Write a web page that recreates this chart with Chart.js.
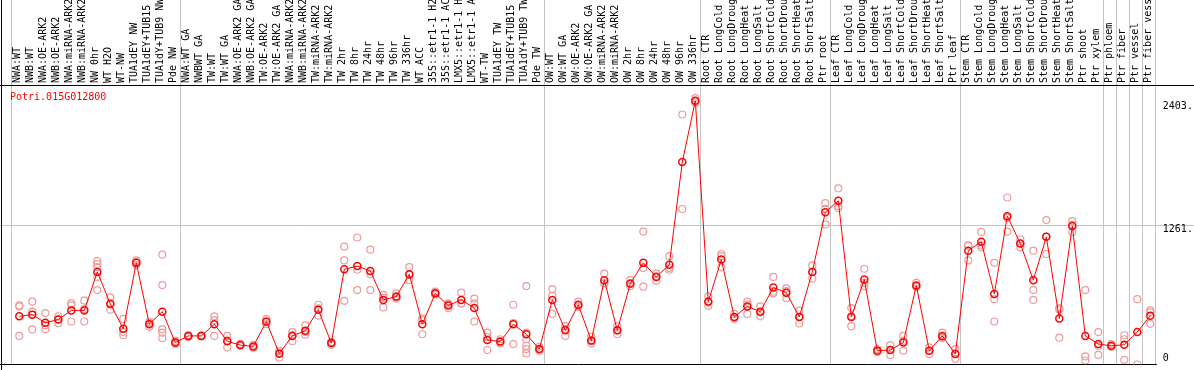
<!DOCTYPE html>
<html>
<head>
<meta charset="utf-8">
<script src="https://cdn.jsdelivr.net/npm/chart.js@4.4.1/dist/chart.umd.min.js"></script>
<style>
  html, body { margin: 0; padding: 0; background: #fff; }
  canvas { display: block; }
</style>
</head>
<body>
<canvas id="exprChart" width="1194" height="370"></canvas>
<script>
// Sample names (top labels)
const sampleLabels = [
    'NWA:WT', 'NWB:WT', 'NWA:OE-ARK2', 'NWB:OE-ARK2', 'NWA:miRNA-ARK2', 'NWB:miRNA-ARK2',
    'NW 0hr', 'WT H2O', 'WT-NW', 'TUA1dEY NW', 'TUA1dEY+TUB15', 'TUA1dY+TUB9 NW', 'Pde NW',
    'NWA:WT GA', 'NWBWT GA', 'TW:WT', 'TW:WT GA', 'NWA:OE-ARK2 GA', 'NWB:OE-ARK2 GA',
    'TW:OE-ARK2', 'TW:OE-ARK2 GA', 'NWA:miRNA-ARK2', 'NWB:miRNA-ARK2', 'TW:miRNA-ARK2',
    'TW:miRNA-ARK2', 'TW 2hr', 'TW 8hr', 'TW 24hr', 'TW 48hr', 'TW 96hr', 'TW 336hr',
    'WT ACC', '35S::etr1-1 H2O', '35S::etr1-1 ACC', 'LMX5::etr1-1 H2O', 'LMX5::etr1-1 ACC',
    'WT-TW', 'TUA1dEY TW', 'TUA1dEY+TUB15', 'TUA1dY+TUB9 TW', 'Pde TW',
    'OW:WT', 'OW:WT GA', 'OW:OE-ARK2', 'OW:OE-ARK2 GA', 'OW:miRNA-ARK2', 'OW:miRNA-ARK2',
    'OW 2hr', 'OW 8hr', 'OW 24hr', 'OW 48hr', 'OW 96hr', 'OW 336hr',
    'Root CTR', 'Root LongCold', 'Root LongDrought', 'Root LongHeat', 'Root LongSalt',
    'Root ShortCold', 'Root ShortDrought', 'Root ShortHeat', 'Root ShortSalt', 'Ptr root',
    'Leaf CTR', 'Leaf LongCold', 'Leaf LongDrought', 'Leaf LongHeat', 'Leaf LongSalt',
    'Leaf ShortCold', 'Leaf ShortDrought', 'Leaf ShortHeat', 'Leaf ShortSalt', 'Ptr leaf',
    'Stem CTR', 'Stem LongCold', 'Stem LongDrought', 'Stem LongHeat', 'Stem LongSalt',
    'Stem ShortCold', 'Stem ShortDrought', 'Stem ShortHeat', 'Stem ShortSalt', 'Ptr shoot',
    'Ptr xylem', 'Ptr phloem', 'Ptr fiber', 'Ptr vessel', 'Ptr fiber vessel'
];

// Mean expression per sample
const meanValues = [
    435, 450, 376, 406, 488, 488, 835, 548, 322, 917, 364, 477, 198,
    258, 258, 364, 210, 175, 163, 388, 98, 258, 305, 495, 193, 859, 888, 844, 583, 613, 814,
    364, 642, 533, 583, 509, 222, 207, 364, 273, 139,
    583, 308, 539, 216, 761, 308, 731, 917, 790, 900, 1827, 2380,
    568, 947, 429, 524, 477, 695, 648, 429, 835, 1374,
    1477, 429, 766, 124, 131, 198, 713, 124, 258, 95,
    1027, 1107, 637, 1338, 1092, 761, 1152, 415, 1249, 258,
    184, 169, 178, 293, 441
];

// Individual replicates per sample
const replicateValues = [
    [533, 524, 258], [568, 477, 317], [464, 355, 317], [435, 408, 373], [553, 533, 388], [577, 500, 388],
    [932, 906, 879, 790, 672], [606, 542, 495], [411, 293, 264], [939, 924, 897], [382, 373, 340],
    [992, 717, 317, 287, 237], [213, 195, 186],
    [266, 258, 249], [262, 258, 255], [435, 400, 258], [258, 218, 154], [186, 173, 169], [178, 160, 151],
    [411, 382, 364], [124, 107, 62], [293, 266, 210], [353, 293, 269], [539, 506, 441], [204, 195, 178],
    [1063, 939, 575], [1146, 855, 672], [1036, 814, 672], [628, 604, 515], [642, 604, 595], [879, 808, 761],
    [417, 400, 273], [657, 640, 630], [551, 542, 509], [648, 553, 551], [595, 551, 388], [287, 249, 131],
    [228, 204, 189], [539, 373, 184], [708, 287, 228, 169, 139, 100], [160, 133, 124],
    [681, 619, 456], [346, 320, 258], [568, 524, 520], [251, 209, 189], [820, 737, 731], [346, 306, 273],
    [761, 724, 708], [1199, 870, 702], [820, 795, 755], [977, 870, 855], [2256, 1403], [2403, 2375, 2362],
    [613, 559, 528], [997, 977, 879], [456, 417, 413], [568, 542, 456], [524, 471, 435], [790, 657, 642],
    [686, 662, 598], [486, 431, 370], [894, 835, 775], [1456, 1404, 1264],
    [1590, 1430, 1412], [509, 435, 346], [864, 737, 708], [139, 115, 115], [175, 133, 86], [258, 213, 124],
    [737, 702, 702], [154, 124, 95], [287, 249, 240], [139, 98, 51],
    [1074, 1072, 939], [1196, 1074, 1057], [917, 589, 388], [1507, 1323, 1199], [1130, 1092, 1057],
    [1027, 672, 583], [1303, 1155, 997], [509, 497, 242], [1294, 1261, 1196], [672, 74, 36],
    [293, 169, 86], [184, 160, 160], [264, 228, 42], [589, 0], [488, 471, 367]
];

// Samples that start a new group (a separator line is drawn before them)
const groupStarts = [0, 13, 41, 53, 63, 73, 84, 85, 86, 87, 88];

// Y axis
const yTicks = [0, 1261, 2403];
const yTickLabels = ['0', '1261.', '2403.'];
const yMax = 2522;
const geneName = 'Potri.015G012800';

const FONT = 'DejaVu Sans Mono';

// one dataset per replicate slot
const maxReps = Math.max(...replicateValues.map(r => r.length));
const repDatasets = [];
for (let k = 0; k < maxReps; k++) {
    repDatasets.push({
        label: 'rep' + (k + 1),
        data: replicateValues.map(r => (r[k] === undefined ? null : r[k])),
        showLine: false,
        pointStyle: 'circle',
        pointRadius: 3.5,
        pointBorderWidth: 1.2,
        pointBorderColor: '#eb9c9c',
        pointBackgroundColor: 'rgba(0,0,0,0)',
        order: 2
    });
}

const framePlugin = {
    id: 'frame',
    beforeDraw(chart) {
        const ctx = chart.ctx;
        ctx.save();
        ctx.fillStyle = '#ffffff';
        ctx.fillRect(0, 0, chart.width, chart.height);
        ctx.restore();
    },
    beforeDatasetsDraw(chart) {
        const ctx = chart.ctx;
        const x = chart.scales.x;
        const y = chart.scales.y;
        const area = chart.chartArea;
        const step = x.getPixelForValue(1) - x.getPixelForValue(0);
        ctx.save();
        ctx.lineWidth = 1;
        ctx.strokeStyle = '#c4c4c4';
        groupStarts.forEach(i => {
            const px = Math.round(x.getPixelForValue(i) - 0.62 * step) + 0.5;
            ctx.beginPath();
            ctx.moveTo(px, 0);
            ctx.lineTo(px, area.bottom);
            ctx.stroke();
        });
        const gy = Math.round(y.getPixelForValue(yTicks[1])) + 0.5;
        ctx.beginPath();
        ctx.moveTo(0, gy);
        ctx.lineTo(chart.width, gy);
        ctx.stroke();

        ctx.strokeStyle = '#000000';
        ctx.beginPath();
        ctx.moveTo(0, Math.round(area.top) + 0.5);
        ctx.lineTo(chart.width, Math.round(area.top) + 0.5);
        ctx.moveTo(1.5, 0);
        ctx.lineTo(1.5, chart.height);
        ctx.moveTo(0, Math.round(area.bottom) - 0.5);
        ctx.lineTo(area.right, Math.round(area.bottom) - 0.5);
        ctx.stroke();
        ctx.restore();
    },
    afterDraw(chart) {
        const ctx = chart.ctx;
        const y = chart.scales.y;
        const area = chart.chartArea;
        ctx.save();
        ctx.font = '10px "' + FONT + '"';
        ctx.fillStyle = '#000000';
        ctx.textAlign = 'left';
        yTicks.forEach((v, i) => {
            const py = y.getPixelForValue(v);
            if (v === 0) {
                ctx.textBaseline = 'bottom';
                ctx.fillText(yTickLabels[i], area.right + 6, py - 1);
            } else {
                ctx.textBaseline = 'top';
                ctx.fillText(yTickLabels[i], area.right + 6, py + (i === 2 ? 3 : 0));
            }
        });
        ctx.fillStyle = '#ff0000';
        ctx.textBaseline = 'top';
        ctx.fillText(geneName, 10, area.top + 7);
        ctx.restore();
    }
};

const ctx = document.getElementById('exprChart').getContext('2d');
new Chart(ctx, {
    type: 'line',
    data: {
        labels: sampleLabels,
        datasets: [{
            label: geneName,
            data: meanValues,
            borderColor: '#ff0000',
            borderWidth: 1,
            tension: 0,
            pointStyle: 'circle',
            pointRadius: 3.5,
            pointBorderWidth: 1.5,
            pointBorderColor: '#ff0000',
            pointBackgroundColor: 'rgba(0,0,0,0)',
            order: 1
        }].concat(repDatasets)
    },
    options: {
        responsive: false,
        animation: false,
        devicePixelRatio: 1,
        layout: {
            padding: { left: 12.8, right: 0, top: 0, bottom: 1 }
        },
        scales: {
            x: {
                type: 'category',
                position: 'top',
                offset: true,
                grid: { display: false, drawTicks: false },
                border: { display: false },
                ticks: {
                    autoSkip: false,
                    minRotation: 90,
                    maxRotation: 90,
                    padding: 2,
                    labelOffset: 10,
                    color: '#000000',
                    font: { family: FONT, size: 10 }
                },
                afterFit: (scale) => { scale.height = 85; }
            },
            y: {
                position: 'right',
                min: 0,
                max: yMax,
                grid: { display: false, drawTicks: false },
                border: { display: false },
                ticks: { display: false },
                afterFit: (scale) => { scale.width = 37.2; }
            }
        },
        plugins: {
            legend: { display: false },
            tooltip: { enabled: false }
        }
    },
    plugins: [framePlugin]
});
</script>
</body>
</html>
